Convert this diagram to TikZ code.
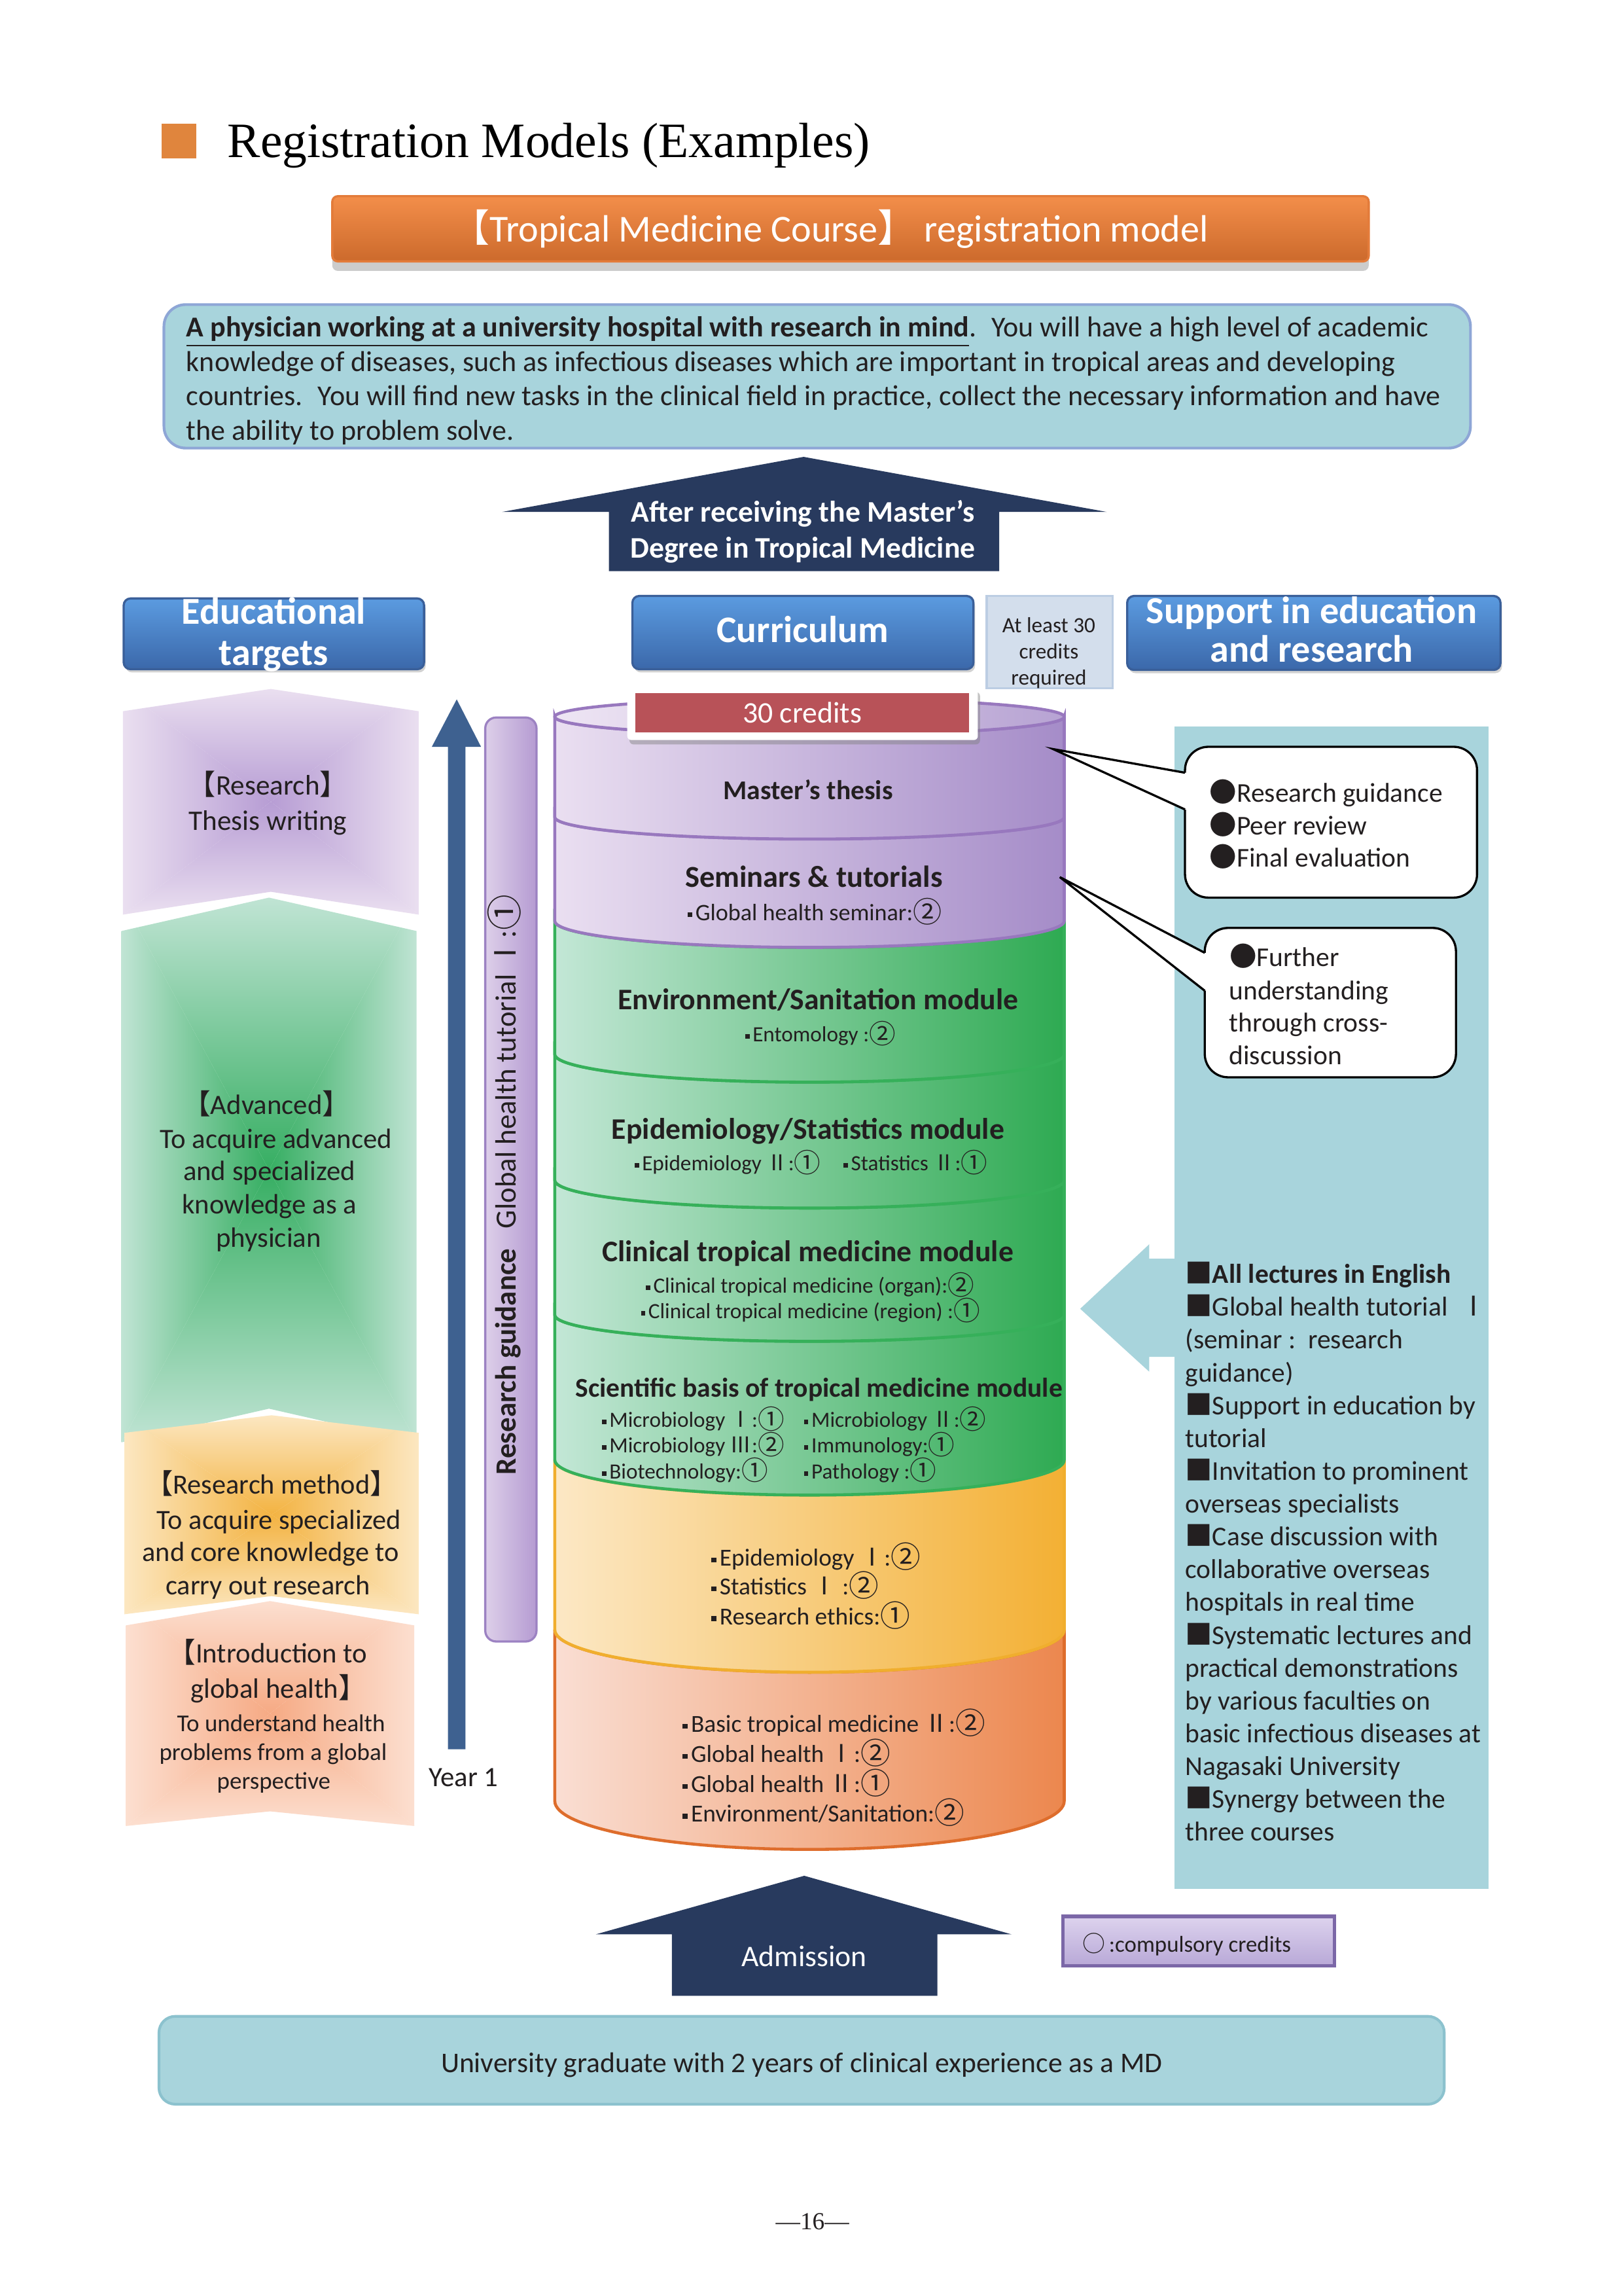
\documentclass[tikz,border=0pt]{standalone}
\usepackage{fontspec}
\usepackage{graphicx}
\setmainfont{Carlito}
\newfontfamily\cjk{Noto Sans CJK JP}
\newfontfamily\tmsfont{Liberation Serif}
\usetikzlibrary{shadows}

\definecolor{sqorange}{HTML}{E0853D}
\definecolor{bantop}{HTML}{F38E4A}
\definecolor{banbot}{HTML}{CC6A2C}
\definecolor{banline}{HTML}{E37B3A}
\definecolor{lblue}{HTML}{A8D4DC}
\definecolor{descline}{HTML}{8EA6D6}
\definecolor{navy}{HTML}{283A5E}
\definecolor{hdtop}{HTML}{5B9BE0}
\definecolor{hdbot}{HTML}{3B68AA}
\definecolor{hdline}{HTML}{3A5F99}
\definecolor{atleast}{HTML}{D3DEEC}
\definecolor{atleastline}{HTML}{BCCDE3}
\definecolor{purL}{HTML}{EADFF1}
\definecolor{purR}{HTML}{A58CC8}
\definecolor{purD}{HTML}{9878BE}
\definecolor{grnL}{HTML}{C3E7D6}
\definecolor{grnR}{HTML}{2EAA52}
\definecolor{grnD}{HTML}{36B05A}
\definecolor{yelL}{HTML}{FCE8C5}
\definecolor{yelR}{HTML}{F3B034}
\definecolor{yelD}{HTML}{F0AE2E}
\definecolor{orgL}{HTML}{FADED3}
\definecolor{orgR}{HTML}{EC874E}
\definecolor{orgD}{HTML}{DE6D2C}
\definecolor{credred}{HTML}{B85258}
\definecolor{arrblue}{HTML}{3E6190}
\definecolor{barL}{HTML}{DDCFE9}
\definecolor{barR}{HTML}{B59BD2}
\definecolor{barD}{HTML}{9C82C2}
\definecolor{bpurI}{HTML}{B79DD4}
\definecolor{bpurO}{HTML}{EADFF0}
\definecolor{bgrnI}{HTML}{36AE62}
\definecolor{bgrnO}{HTML}{C0E4D4}
\definecolor{byelI}{HTML}{F3B342}
\definecolor{byelO}{HTML}{FCE7C1}
\definecolor{borgI}{HTML}{F6AA84}
\definecolor{borgO}{HTML}{FCDFD0}
\definecolor{legtop}{HTML}{DDD3EE}
\definecolor{legbot}{HTML}{B8A8D7}
\definecolor{legline}{HTML}{7B67A7}
\definecolor{botline}{HTML}{8CC2CE}
\definecolor{txtdark}{HTML}{231F20}

\newcommand{\fsz}[1]{\fontsize{#1pt}{#1pt}\selectfont}
\newcommand{\DT}{\kern0.06em\raisebox{0.3ex}{\rule{0.2em}{0.2em}}\kern0.14em}
\newcommand{\Ci}{{\cjk\raisebox{-0.08em}{\scalebox{1.22}{①}}}}
\newcommand{\Cii}{{\cjk\raisebox{-0.08em}{\scalebox{1.22}{②}}}}
\newcommand{\RI}{{\cjk Ⅰ}}
\newcommand{\RII}{{\cjk Ⅱ}}
\newcommand{\RIII}{{\cjk Ⅲ}}
\newcommand{\LB}{{\cjk\kern-0.45em【}}
\newcommand{\RB}{{\cjk 】\kern-0.45em}}
\newcommand{\LBF}{{\cjk 【}}
\newcommand{\RBF}{{\cjk 】}}
\newcommand{\BUL}{{\cjk ●}}
\newcommand{\SQ}{{\cjk ■}}
\newcommand{\CIRC}{{\cjk ○}}

\newcommand{\cyllayer}[7]{%
  \draw[draw=#7, line width=1.1pt, left color=#5, right color=#6]
    (379,-#1) -- (379,-#3) arc[start angle=180, end angle=360, x radius=174, y radius=#4]
    -- (727,-#1) arc[start angle=0, end angle=-180, x radius=174, y radius=#2] -- cycle;}

\newcommand{\tblock}[8]{%
  \begin{scope}
    \pgfmathsetmacro\xm{(#1+#2)/2}
    \pgfmathsetmacro\ym{-(#4+#5)/2}
    \clip (#1,-#3) -- (\xm,-#4) -- (#2,-#3) -- (#2,-#5) -- (\xm,-#6) -- (#1,-#5) -- cycle;
    \shade[top color=#8, bottom color=#7] (#1,-#4) -- (#2,-#4) -- (\xm,\ym) -- cycle;
    \shade[top color=#7, bottom color=#8] (#1,-#5) -- (#2,-#5) -- (\xm,\ym) -- cycle;
    \shade[left color=#8, right color=#7] (#1,-#4) -- (#1,-#5) -- (\xm,\ym) -- cycle;
    \shade[left color=#7, right color=#8] (#2,-#4) -- (#2,-#5) -- (\xm,\ym) -- cycle;
  \end{scope}}

\tikzset{
  every node/.append style={yshift=-1.4pt},
  txt/.style={inner sep=0pt, anchor=mid, text=txtdark},
  ltxt/.style={inner sep=0pt, anchor=mid west, text=txtdark},
  header/.style={draw=hdline, line width=0.8pt, top color=hdtop, bottom color=hdbot,
    rounded corners=2.5pt, drop shadow={shadow xshift=0.6pt, shadow yshift=-1.2pt, opacity=0.35}},
  hdtext/.style={inner sep=0pt, anchor=mid, text=white, font=\bfseries\fsz{14}, yshift=-0.6pt},
  callout/.style={draw=black, line width=0.8pt, fill=white, rounded corners=8.6pt},
  navyarrow/.style={fill=navy},
}

\begin{document}
\begin{tikzpicture}[x=0.18936mm, y=0.18936mm]
\useasboundingbox (0,0) rectangle (1109,-1568);
\fill[white] (0,0) rectangle (1109,-1568);

% ---- title
\fill[sqorange] (110.5,-84.6) rectangle (134,-108.3);
\node[inner sep=0pt, anchor=base west, font=\tmsfont\fsz{18.2}, yshift=1.4pt] (title) at (155,-107.5) {Registration Models (Examples)};

% ---- banner
\path[draw=banline, line width=0.8pt, top color=bantop, bottom color=banbot, rounded corners=2pt,
  drop shadow={shadow xshift=0pt, shadow yshift=-3.5pt, opacity=0.4}] (227,-134) rectangle (935,-178.5);
\node[inner sep=0pt, anchor=mid, text=white, font=\fsz{14}, yshift=-0.7pt] (banner) at (567,-157) {\LBF Tropical Medicine Course\RBF\ registration model};

% ---- description
\draw[draw=descline, line width=1pt, fill=lblue, rounded corners=8pt] (112,-208) rectangle (1004.5,-306);
\node[ltxt, font=\fsz{10.6}] (d1) at (127,-223) {\underline{\textbf{A physician working at a university hospital with research in mind}}.~ You will have a high level of academic};
\node[ltxt, font=\fsz{10.6}] (d2) at (127,-246.5) {knowledge of diseases, such as infectious diseases which are important in tropical areas and developing};
\node[ltxt, font=\fsz{10.6}] (d3) at (127,-270) {countries.~ You will find new tasks in the clinical field in practice, collect the necessary information and have};
\node[ltxt, font=\fsz{10.6}] (d4) at (127,-293.5) {the ability to problem solve.};

% ---- top arrow
\fill[navyarrow] (343,-349.6) -- (549,-312) -- (756,-349.6) -- (682.6,-349.6) -- (682.6,-390) -- (416,-390) -- (416,-349.6) -- cycle;
\node[inner sep=0pt, anchor=mid, text=white, font=\bfseries\fsz{11}] (up1) at (548.5,-349.6) {After receiving the Master’s};
\node[inner sep=0pt, anchor=mid, text=white, font=\bfseries\fsz{11}] (up2) at (548.5,-374) {Degree in Tropical Medicine};

% ---- headers
\path[header] (84.5,-408.7) rectangle (289.7,-457);
\node[hdtext] (edu1) at (187,-418) {Educational};
\node[hdtext] (edu2) at (187,-446) {targets};
\path[header] (432,-407) rectangle (665,-457);
\node[hdtext, font=\bfseries\fsz{13.8}] (curr) at (548.3,-430.7) {Curriculum};
\path[header] (770,-407) rectangle (1025,-457.5);
\node[hdtext] (sup1) at (896,-417.4) {Support in education};
\node[hdtext] (sup2) at (896,-444) {and research};
\draw[draw=atleastline, line width=0.8pt, fill=atleast] (674,-407) rectangle (760,-470);
\node[txt, font=\fsz{8}] (al1) at (716.5,-424.8) {At least 30};
\node[txt, font=\fsz{8}] (al2) at (716.5,-442.7) {credits};
\node[txt, font=\fsz{8}] (al3) at (716.5,-460.6) {required};

% ---- left column blocks
\tblock{84}{286}{485.7}{470.5}{624.6}{609}{bpurI}{bpurO}
\tblock{83}{284.5}{635.8}{613}{985}{962}{bgrnI}{bgrnO}
\tblock{85}{286}{978.5}{966.5}{1102.4}{1090}{byelI}{byelO}
\tblock{86}{283}{1110}{1093.4}{1247}{1237}{borgI}{borgO}

\node[txt, font=\fsz{10.4}] (r1) at (183,-536) {\LB Research\RB};
\node[txt, font=\fsz{10.4}] (r2) at (183,-560) {Thesis writing};
\node[txt, font=\fsz{10.3}] (a1) at (182,-754) {\LB Advanced\RB};
\node[txt, font=\fsz{10.3}] (a2) at (188.5,-777) {To acquire advanced};
\node[txt, font=\fsz{10.3}] (a3) at (184,-799) {and specialized};
\node[txt, font=\fsz{10.3}] (a4) at (184,-822) {knowledge as a};
\node[txt, font=\fsz{10.3}] (a5) at (183.5,-844.6) {physician};
\node[txt, font=\fsz{10.2}] (m1) at (185.5,-1013) {\LB Research method\RB};
\node[txt, font=\fsz{10.2}] (m2) at (190.5,-1037.5) {To acquire specialized};
\node[txt, font=\fsz{10.2}] (m3) at (185,-1059) {and core knowledge to};
\node[txt, font=\fsz{10.2}] (m4) at (183,-1082) {carry out research};
\node[txt, font=\fsz{10.3}] (i1) at (187,-1128.6) {\LB Introduction to};
\node[txt, font=\fsz{10.3}] (i2) at (186,-1152.5) {global health\RB};
\node[txt, font=\fsz{8.9}] (i3) at (192,-1175.3) {To understand health};
\node[txt, font=\fsz{8.9}] (i4) at (186.6,-1195.2) {problems from a global};
\node[txt, font=\fsz{8.9}] (i5) at (187,-1214.7) {perspective};

% ---- blue year arrow
\fill[arrblue] (306,-1194.6) -- (306,-510) -- (295,-510) -- (312,-477.6) -- (328.6,-510) -- (318,-510) -- (318,-1194.6) -- cycle;
\node[txt, font=\fsz{10.3}] (year) at (316.6,-1213) {Year 1};

% ---- research guidance bar
\draw[draw=barD, line width=0.8pt, left color=barL, right color=barR, rounded corners=4pt] (331.5,-490) rectangle (366.5,-1121);
\node[txt, rotate=90, font=\fsz{10.8}, yshift=1.4pt] (rg) at (350.5,-806.5) {\textbf{Research guidance}\ \ \ Global health tutorial \RI:\Ci};

% ---- cylinder
\cyllayer{1113}{29}{1230}{33}{orgL}{orgR}{orgD}
\cyllayer{997}{24}{1113}{29}{yelL}{yelR}{yelD}
\cyllayer{898}{18}{997}{24}{grnL}{grnR}{grnD}
\cyllayer{806}{19}{898}{18}{grnL}{grnR}{grnD}
\cyllayer{720}{19}{806}{19}{grnL}{grnR}{grnD}
\cyllayer{629}{18}{720}{19}{grnL}{grnR}{grnD}
\cyllayer{558}{15}{629}{18}{purL}{purR}{purD}
\cyllayer{489.5}{12.5}{558}{15}{purL}{purR}{purD}
\draw[draw=purD, line width=1.1pt, left color=purL!80!white, right color=purR!80!white] (553,-489.5) ellipse[x radius=174, y radius=12.5];

\node[txt, font=\bfseries\fsz{10}] (c1) at (552,-539) {Master’s thesis};
\node[txt, font=\bfseries\fsz{11.2}] (c2) at (556,-599) {Seminars \& tutorials};
\node[txt, font=\fsz{8.7}] (c2a) at (556,-621.6) {\DT Global health seminar:\Cii};
\node[txt, font=\bfseries\fsz{11}] (c3) at (558.8,-682.6) {Environment/Sanitation module};
\node[txt, font=\fsz{8}] (c3a) at (560,-704.4) {\DT Entomology :\Cii};
\node[txt, font=\bfseries\fsz{11}] (c4) at (552,-771) {Epidemiology/Statistics module};
\node[txt, font=\fsz{8}] (c4a) at (553.6,-792.5) {\DT Epidemiology \RII:\Ci\quad\DT Statistics \RII:\Ci};
\node[txt, font=\bfseries\fsz{11}] (c5) at (551.8,-854.6) {Clinical tropical medicine module};
\node[ltxt, font=\fsz{8}] (c5a) at (440,-876) {\DT Clinical tropical medicine (organ):\Cii};
\node[ltxt, font=\fsz{8}] (c5b) at (436.6,-893.5) {\DT Clinical tropical medicine (region) :\Ci};
\node[txt, font=\bfseries\fsz{10}] (c6) at (559.5,-947) {Scientific basis of tropical medicine module};
\node[ltxt, font=\fsz{8}] (c6a) at (410,-967.6) {\DT Microbiology \RI:\Ci};
\node[ltxt, font=\fsz{8}] (c6b) at (410,-985) {\DT Microbiology \RIII:\Cii};
\node[ltxt, font=\fsz{8}] (c6c) at (410,-1002.8) {\DT Biotechnology:\Ci};
\node[ltxt, font=\fsz{8}] (c6d) at (548,-967.6) {\DT Microbiology \RII:\Cii};
\node[ltxt, font=\fsz{8}] (c6e) at (548,-985) {\DT Immunology:\Ci};
\node[ltxt, font=\fsz{8}] (c6f) at (548,-1002.8) {\DT Pathology :\Ci};
\node[ltxt, font=\fsz{9}] (c7a) at (484.6,-1062.5) {\DT Epidemiology \RI:\Cii};
\node[ltxt, font=\fsz{9}] (c7b) at (484.6,-1082) {\DT Statistics \RI\ :\Cii};
\node[ltxt, font=\fsz{9}] (c7c) at (484.6,-1102.5) {\DT Research ethics:\Ci};
\node[ltxt, font=\fsz{9}] (c8a) at (465,-1176) {\DT Basic tropical medicine \RII:\Cii};
\node[ltxt, font=\fsz{9}] (c8b) at (465,-1196.6) {\DT Global health \RI:\Cii};
\node[ltxt, font=\fsz{9}] (c8c) at (465,-1217) {\DT Global health \RII:\Ci};
\node[ltxt, font=\fsz{9}] (c8d) at (465,-1237.3) {\DT Environment/Sanitation:\Cii};

% ---- 30 credits
\path[fill=white, rounded corners=1.5pt, drop shadow={shadow xshift=0.8pt, shadow yshift=-1.6pt, opacity=0.45}] (428.5,-469.6) rectangle (668,-505.4);
\fill[credred] (434,-473.5) rectangle (662,-500);
\node[inner sep=0pt, anchor=mid, text=white, font=\fsz{11}] (cred) at (548,-486.5) {30 credits};

% ---- support panel
\fill[lblue] (802.5,-496.2) rectangle (1017,-1289.9);
\fill[lblue] (802.7,-859.6) -- (785,-859.6) -- (785,-849.8) -- (737.9,-893.8) -- (785,-936.7) -- (785,-926.6) -- (802.7,-926.6) -- cycle;

\foreach \t [count=\i from 0] in {{\SQ\textbf{All lectures in English}}, {\SQ Global health tutorial\ \ \RI}, {(seminar\ :\ \ research}, {guidance)}, {\SQ Support in education by}, {tutorial}, {\SQ Invitation to prominent}, {overseas specialists}, {\SQ Case discussion with}, {collaborative overseas}, {hospitals in real time}, {\SQ Systematic lectures and}, {practical demonstrations}, {by various faculties on}, {basic infectious diseases at}, {Nagasaki University}, {\SQ Synergy between the}, {three courses}}
  \node[ltxt, font=\fsz{10}] (s\i) at (809.3,{-869.3-22.41*\i}) {\t};

% ---- callouts
\draw[callout] (809.5,-510) rectangle (1009,-613);
\fill[white] (719.5,-511.6) -- (809.5,-527.7) -- (812,-527.7) -- (812,-552.8) -- (809.5,-552.8) -- cycle;
\draw[line width=0.8pt] (809.5,-527.7) -- (719.5,-511.6) -- (809.5,-552.8);
\node[ltxt, font=\fsz{10}] (k1) at (826,-540.7) {\BUL Research guidance};
\node[ltxt, font=\fsz{10}] (k2) at (826,-563) {\BUL Peer review};
\node[ltxt, font=\fsz{10}] (k3) at (826,-585.2) {\BUL Final evaluation};

\draw[callout] (823,-633.7) rectangle (994.6,-735.7);
\fill[white] (724,-599) -- (823,-650.7) -- (825.5,-650.7) -- (825.5,-676.6) -- (823,-676.6) -- cycle;
\draw[line width=0.8pt] (823,-650.7) -- (724,-599) -- (823,-676.6);
\node[ltxt, font=\fsz{10}] (f1) at (839.5,-653) {\BUL Further};
\node[ltxt, font=\fsz{10}] (f2) at (839.3,-675.5) {understanding};
\node[ltxt, font=\fsz{10}] (f3) at (839.3,-697.8) {through cross-};
\node[ltxt, font=\fsz{10}] (f4) at (839.3,-720) {discussion};

% ---- admission arrow
\fill[navyarrow] (407,-1321) -- (549.4,-1281) -- (691,-1321) -- (640.4,-1321) -- (640.4,-1363) -- (459,-1363) -- (459,-1321) -- cycle;
\node[inner sep=0pt, anchor=mid, text=white, font=\fsz{11}] (adm) at (549.4,-1336) {Admission};

% ---- legend
\draw[draw=legline, line width=1.3pt, top color=legtop, bottom color=legbot] (726,-1308.7) rectangle (911.7,-1342.5);
\node[ltxt, font=\fsz{8.4}] (leg) at (739,-1326) {\CIRC\,:compulsory credits};

% ---- bottom box
\draw[draw=botline, line width=1pt, fill=lblue, rounded corners=6pt] (108.6,-1377) rectangle (986.6,-1437);
\node[txt, font=\fsz{10.5}] (grad) at (547.6,-1408.5) {University graduate with 2 years of clinical experience as a MD};

% ---- footer
\node[txt, font=\tmsfont\fsz{9}] (page) at (555,-1515.8) {—16—};
\end{tikzpicture}
\end{document}
